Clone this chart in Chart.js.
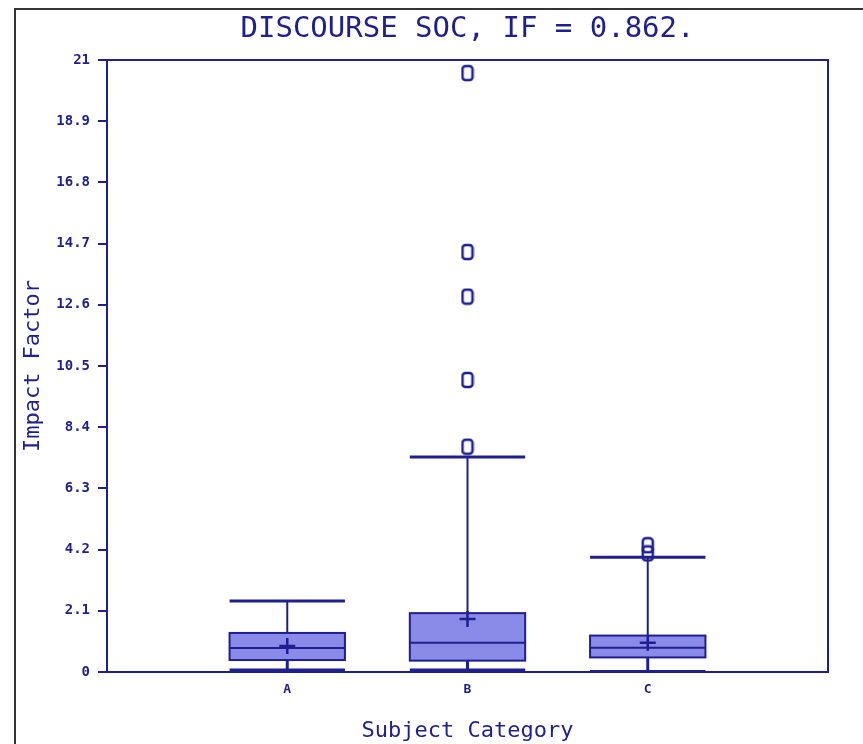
<!DOCTYPE html>
<html>
<head>
<meta charset="utf-8">
<script src="https://cdn.jsdelivr.net/npm/chart.js@4/dist/chart.umd.min.js"></script>
<style>
  html, body { margin: 0; padding: 0; background: #fff; }
  #wrap { width: 863px; height: 744px; position: relative; }
</style>
</head>
<body>
<div id="wrap"><canvas id="mycanvas"></canvas></div>
<script>
// data
var categories = ['A', 'B', 'C'];
var whiskerLow = [0.07, 0.07, 0.02];
var q1 = [0.41, 0.39, 0.50];
var median = [0.82, 1.00, 0.83];
var q3 = [1.34, 2.02, 1.25];
var whiskerHigh = [2.44, 7.38, 3.94];
var means = [0.89, 1.82, 1.00];
var outliersB = [20.55, 14.41, 12.88, 10.02, 7.73];
var outliersC = [4.35, 4.07];
var yTicks = [0, 2.1, 4.2, 6.3, 8.4, 10.5, 12.6, 14.7, 16.8, 18.9, 21];

var navy = '#1f1f8f';
var boxFill = '#8a8ae8';
var monoFont = "'DejaVu Sans Mono', 'Liberation Mono', monospace";

var outlierPoints = [];
outliersB.forEach(function(v) { outlierPoints.push({x: 2, y: v}); });
outliersC.forEach(function(v) { outlierPoints.push({x: 3, y: v}); });

var meanPoints = [];
for (var i = 0; i < categories.length; i++) {
  meanPoints.push({x: i + 1, y: means[i]});
}

// little "0" shaped marker like the original outliers
var oMark = document.createElement('canvas');
oMark.width = 14; oMark.height = 18;
(function() {
  var c = oMark.getContext('2d');
  c.strokeStyle = navy;
  c.lineWidth = 2.5;
  c.beginPath();
  c.roundRect(2, 2, 10, 14, 3);
  c.stroke();
})();

// draws the frame, boxes and whiskers with the chart scales
var boxPlot = {
  id: 'boxPlot',
  beforeDraw: function(chart) {
    var c = chart.ctx;
    c.save();
    c.strokeStyle = '#333';
    c.lineWidth = 2;
    c.beginPath();
    c.moveTo(15, 744);
    c.lineTo(15, 9);
    c.lineTo(863, 9);
    c.stroke();
    c.restore();
  },
  beforeDatasetsDraw: function(chart) {
    var c = chart.ctx;
    var xs = chart.scales.x, ys = chart.scales.y;
    var half = 0.32;
    c.save();
    c.strokeStyle = navy;
    c.lineWidth = 2;
    for (var i = 0; i < categories.length; i++) {
      var xc = xs.getPixelForValue(i + 1);
      var xl = xs.getPixelForValue(i + 1 - half);
      var xr = xs.getPixelForValue(i + 1 + half);
      var yq1 = ys.getPixelForValue(q1[i]);
      var yq3 = ys.getPixelForValue(q3[i]);
      var ymed = ys.getPixelForValue(median[i]);
      var ylo = ys.getPixelForValue(whiskerLow[i]);
      var yhi = ys.getPixelForValue(whiskerHigh[i]);
      // whisker stems
      c.beginPath();
      c.moveTo(xc, yq3); c.lineTo(xc, yhi);
      c.stroke();
      c.lineWidth = 3;
      c.beginPath();
      c.moveTo(xc, yq1); c.lineTo(xc, ylo);
      c.stroke();
      // caps
      c.beginPath();
      c.moveTo(xl, yhi); c.lineTo(xr, yhi);
      c.moveTo(xl, ylo); c.lineTo(xr, ylo);
      c.stroke();
      c.lineWidth = 2;
      // box
      c.fillStyle = boxFill;
      c.fillRect(xl, yq3, xr - xl, yq1 - yq3);
      c.strokeRect(xl, yq3, xr - xl, yq1 - yq3);
      c.beginPath();
      c.moveTo(xl, ymed); c.lineTo(xr, ymed);
      c.stroke();
    }
    c.restore();
  },
  afterDraw: function(chart) {
    var a = chart.chartArea;
    var c = chart.ctx;
    c.save();
    c.strokeStyle = navy;
    c.lineWidth = 2;
    c.strokeRect(a.left, a.top, a.right - a.left, a.bottom - a.top);
    c.restore();
  }
};

var ctx = document.getElementById('mycanvas');

var chart = new Chart(ctx, {
  type: 'scatter',
  data: {
    datasets: [
      {
        label: 'Outliers',
        data: outlierPoints,
        pointStyle: oMark,
        pointRadius: 8,
        order: 1
      },
      {
        label: 'Mean',
        data: meanPoints,
        pointStyle: 'cross',
        pointRadius: 8,
        borderColor: navy,
        borderWidth: 2.5,
        order: 0
      }
    ]
  },
  options: {
    responsive: true,
    maintainAspectRatio: false,
    animation: false,
    layout: { padding: { left: 0, right: 35, top: 0, bottom: 0 } },
    plugins: {
      legend: { display: false },
      tooltip: { enabled: false },
      title: {
        display: true,
        fullSize: false,
        text: 'DISCOURSE SOC, IF = 0.862.',
        color: navy,
        font: { family: monoFont, size: 29, weight: 'normal', lineHeight: 1.2 },
        padding: { top: 12.5, bottom: 12.7 }
      }
    },
    scales: {
      x: {
        type: 'linear',
        min: 0,
        max: 4,
        afterBuildTicks: function(scale) {
          scale.ticks = [{value: 1}, {value: 2}, {value: 3}];
        },
        afterFit: function(scale) { scale.height = 72; },
        ticks: {
          color: navy,
          font: { family: monoFont, size: 13, weight: 'bold' },
          padding: 10,
          callback: function(v) { return categories[v - 1] || ''; }
        },
        grid: { display: false, drawTicks: false },
        border: { display: false },
        title: {
          display: true,
          text: 'Subject Category',
          color: navy,
          font: { family: monoFont, size: 22 },
          padding: { top: 0, bottom: 0 }
        }
      },
      y: {
        min: 0,
        max: 21,
        afterBuildTicks: function(scale) {
          scale.ticks = yTicks.map(function(v) { return {value: v}; });
        },
        afterFit: function(scale) { scale.width = 107; },
        ticks: {
          color: navy,
          font: { family: monoFont, size: 14, weight: 'bold' },
          padding: 8,
          callback: function(v) { return String(v); }
        },
        grid: { drawOnChartArea: false, drawTicks: true, tickLength: 9, color: navy, lineWidth: 2 },
        border: { display: false },
        title: {
          display: true,
          text: 'Impact Factor',
          color: navy,
          font: { family: monoFont, size: 22 },
          padding: { top: 20, bottom: 0 }
        }
      }
    }
  },
  plugins: [boxPlot]
});
</script>
</body>
</html>
